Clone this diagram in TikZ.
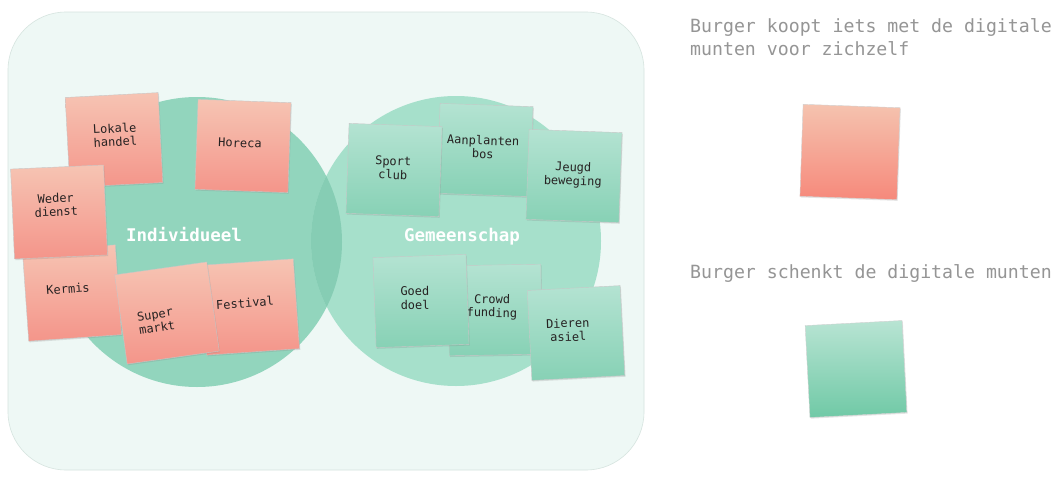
\documentclass[tikz,border=0pt]{standalone}
\usepackage{fontspec}
\newfontfamily\notefont{DejaVu Sans Mono}
\usetikzlibrary{shadows}
\definecolor{bgmint}{HTML}{EEF8F5}
\definecolor{bgborder}{HTML}{D6E4DF}
\definecolor{leftcirc}{HTML}{92D5BD}
\definecolor{rightcirc}{HTML}{A6E0CB}
\definecolor{lenscol}{HTML}{86CDB4}
\definecolor{redtop}{HTML}{F6C4B3}
\definecolor{redbot}{HTML}{F4958A}
\definecolor{greentop}{HTML}{B4E3D2}
\definecolor{greenbot}{HTML}{87D1B5}
\definecolor{bigredtop}{HTML}{F5C3AF}
\definecolor{bigredbot}{HTML}{F6897B}
\definecolor{biggreentop}{HTML}{B8E4D3}
\definecolor{biggreenbot}{HTML}{70C9A6}
\definecolor{notetext}{HTML}{262222}
\definecolor{graytext}{HTML}{959595}
\tikzset{
  note/.style={minimum width=93pt, minimum height=90pt, inner sep=0pt,
    draw=black!22, line width=0.4pt,
    drop shadow={shadow xshift=0.8pt, shadow yshift=-1.2pt, opacity=0.22}},
  notelabel/.style={inner sep=1pt, align=center,
    font=\notefont\fontsize{12}{13.5}\selectfont, text=notetext},
  rednote/.style={note, top color=redtop, bottom color=redbot},
  greennote/.style={note, top color=greentop, bottom color=greenbot},
  bignote/.style={minimum width=97pt, minimum height=92pt, inner sep=0pt,
    draw=black!18, line width=0.4pt,
    drop shadow={shadow xshift=0.8pt, shadow yshift=-1.2pt, opacity=0.2}},
  circlabel/.style={font=\notefont\bfseries\fontsize{17.5}{20}\selectfont, text=white},
  sidetext/.style={anchor=base west, inner sep=0pt, font=\notefont\fontsize{18.2}{23}\selectfont, text=graytext}
}
\begin{document}
\begin{tikzpicture}[x=1pt,y=-1pt]
\useasboundingbox (0,0) rectangle (1061,479);
\fill[white] (0,0) rectangle (1061,479);
% background panel
\draw[fill=bgmint, draw=bgborder, line width=0.6pt, rounded corners=58pt] (8,12) rectangle (644,470);
% circles
\fill[leftcirc] (197,242) circle (145pt);
\fill[rightcirc] (456,241) circle (145pt);
\begin{scope}
  \clip (197,242) circle (145pt);
  \fill[lenscol] (456,241) circle (145pt);
\end{scope}
% labels
\node[circlabel] (indiv) at (184,235) {Individueel};
\node[circlabel] (gemeen) at (462,237) {Gemeenschap};
% left notes
\node[rednote, rotate=3]  (lokale)  at (114,140) {};
\node[notelabel, rotate=3] (lokaleT) at (115,135) {Lokale\\handel};
\node[rednote, rotate=-2] (horeca)  at (243,146) {};
\node[notelabel, rotate=-2] (horecaT) at (240,143) {Horeca};
\node[rednote, rotate=4]  (kermis)  at (72,293)  {};
\node[notelabel, rotate=4] (kermisT) at (68,289) {Kermis};
\node[rednote, rotate=2.5](weder)   at (59,212)  {};
\node[notelabel, rotate=2.5] (wederT) at (56,205) {Weder\\dienst};
\node[rednote, rotate=4]  (festival) at (250,307) {};
\node[notelabel, rotate=4] (festivalT) at (245,303) {Festival};
\node[rednote, rotate=8]  (super)   at (167,313) {};
\node[notelabel, rotate=9] (superT) at (156,321) {Super\\markt};
% right notes
\node[greennote, rotate=-2] (aanplanten) at (485,150) {};
\node[notelabel, rotate=-2] (aanplantenT) at (483,147) {Aanplanten\\bos};
\node[greennote, rotate=-2] (sport) at (394,170) {};
\node[notelabel, rotate=-2] (sportT) at (393,168) {Sport\\club};
\node[greennote, rotate=-2] (jeugd) at (574,176) {};
\node[notelabel, rotate=-2] (jeugdT) at (573,175) {Jeugd\\beweging};
\node[greennote, rotate=1]  (crowd) at (495,310) {};
\node[notelabel, rotate=-1] (crowdT) at (492,307) {Crowd\\funding};
\node[greennote, rotate=2]  (goed)  at (421,301) {};
\node[notelabel, rotate=1] (goedT) at (415,298) {Goed\\doel};
\node[greennote, rotate=3]  (dieren) at (576,333) {};
\node[notelabel, rotate=2] (dierenT) at (568,330) {Dieren\\asiel};
% legend
\node[sidetext] (t1a) at (690,32) {Burger koopt iets met de digitale};
\node[sidetext] (t1b) at (690,55) {munten voor zichzelf};
\node[bignote, top color=bigredtop, bottom color=bigredbot, rotate=-2] (legred) at (850,152) {};
\node[sidetext] (t2) at (690,278) {Burger schenkt de digitale munten};
\node[bignote, top color=biggreentop, bottom color=biggreenbot, rotate=3] (leggreen) at (856,369) {};
\end{tikzpicture}
\end{document}
